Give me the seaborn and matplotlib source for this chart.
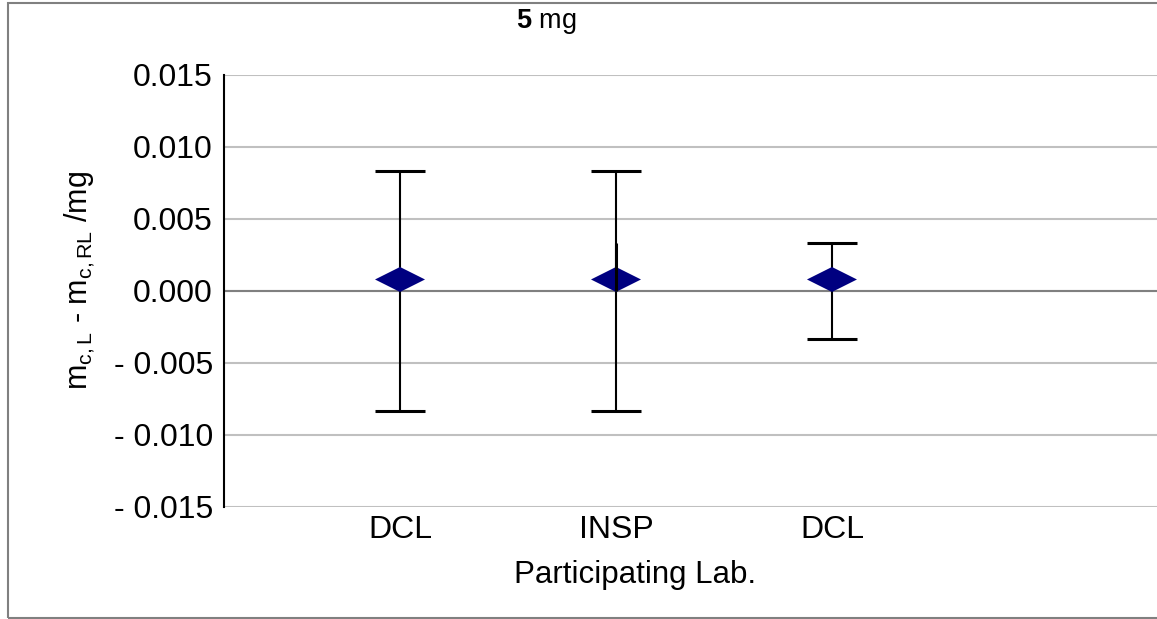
import numpy as np
import pandas as pd
import seaborn as sns
import matplotlib
matplotlib.use("Agg")
import matplotlib.pyplot as plt
from matplotlib.path import Path
from matplotlib.patches import Rectangle

# ---- data ----
labs = ["DCL", "INSP", "DCL"]
values = [0.0008, 0.0008, 0.0008]
upper = [0.0083, 0.0083, 0.0033]
lower = [-0.0083, -0.0083, -0.0033]
# small overlay segment seen at INSP
extra_lab_index = [1]
extra_low = [0.0]
extra_high = [0.0033]
yticks = [-0.015, -0.010, -0.005, 0.0, 0.005, 0.010, 0.015]
ytick_labels = ["- 0.015", "- 0.010", "- 0.005", "0.000", "0.005", "0.010", "0.015"]

sns.set_style("white")
plt.rcParams["font.family"] = ["Liberation Sans", "DejaVu Sans"]
plt.rcParams["mathtext.fontset"] = "custom"
plt.rcParams["mathtext.rm"] = "Liberation Sans"
plt.rcParams["mathtext.it"] = "Liberation Sans"
plt.rcParams["mathtext.bf"] = "Liberation Sans:bold"
plt.rcParams["mathtext.default"] = "regular"
for k in ["text.color", "axes.labelcolor", "xtick.color", "ytick.color"]:
    plt.rcParams[k] = "black"

fig = plt.figure(figsize=(11.57, 6.19), dpi=100)
W, H = 1157, 619
ax = fig.add_axes([224 / W, (H - 507) / H, 1 - 224 / W, (507 - 75) / H])

df = pd.DataFrame({"x": np.arange(len(labs)), "lab": labs, "value": values,
                   "upper": upper, "lower": lower})

# error bars (bounds are not symmetric about the point)
yerr = np.vstack([df["value"] - df["lower"], df["upper"] - df["value"]])
ax.errorbar(df["x"], df["value"], yerr=yerr, fmt="none", ecolor="black",
            elinewidth=1.5, capsize=18, capthick=2.2, zorder=3)

# flattened diamond marker
diamond = Path([(-1, 0), (0, 0.5), (1, 0), (0, -0.5), (-1, 0)],
               [Path.MOVETO, Path.LINETO, Path.LINETO, Path.LINETO, Path.CLOSEPOLY])
sns.scatterplot(data=df, x="x", y="value", marker=diamond, s=36 ** 2,
                color="#000080", edgecolor="none", linewidth=0, zorder=4, ax=ax)

ax.vlines(extra_lab_index, extra_low, extra_high, color="black", lw=2.2, zorder=5)

ax.set_ylim(-0.015, 0.015)
ax.set_xlim(-0.815, 3.505)
ax.set_yticks(yticks)
ax.set_yticklabels(ytick_labels)
ax.set_xticks(df["x"])
ax.set_xticklabels(labs)
ax.tick_params(axis="both", labelsize=23, length=0)
ax.tick_params(axis="y", pad=8)
ax.tick_params(axis="x", pad=6)

ax.yaxis.grid(True, color="#c0c0c0", lw=1.5, zorder=0)
ax.xaxis.grid(False)
ax.axhline(0, color="#808080", lw=1.5, zorder=1)
ax.set_axisbelow(True)
for s in ["top", "right", "bottom"]:
    ax.spines[s].set_visible(False)
ax.spines["left"].set_color("black")
ax.spines["left"].set_linewidth(1.5)

ax.set_xlabel("Participating Lab.", fontsize=22.5, va="center")
ax.xaxis.set_label_coords((635 - 224) / 933, (507 - 575) / 432)
ax.set_ylabel("m$_{c,L}$ - m$_{c,RL}$ /mg", fontsize=22, va="center")
ax.yaxis.set_label_coords((80 - 224) / 933, (507 - 280) / 432)

fig.text(546 / W, 1 - 22 / H, r"$\mathbf{5}$ mg", fontsize=19.5, ha="center", va="center")

fig.patches.append(Rectangle((8 / W, 1 / H), 1.2, 1 - 4 / H, transform=fig.transFigure,
                             fill=False, edgecolor="#808080", lw=1.5))

fig.savefig("out.png", dpi=100)
